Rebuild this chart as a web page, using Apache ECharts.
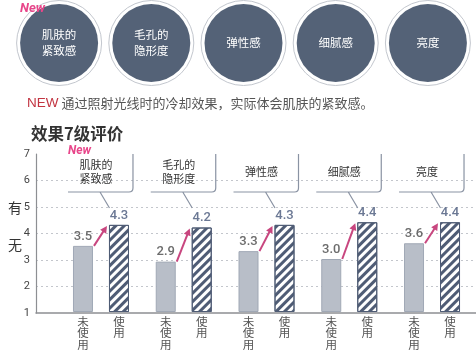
<!DOCTYPE html>
<html><head><meta charset="utf-8">
<script src="https://cdn.jsdelivr.net/npm/echarts@6/dist/echarts.min.js"></script>
<style>html,body{margin:0;padding:0;background:#fff}#c{width:476px;height:350px}</style>
</head><body><div id="c"></div>
<script>
const circleLabels = ['肌肤的\n紧致感', '毛孔的\n隐形度', '弹性感', '细腻感', '亮度'];
const categories = ['肌肤的\n紧致感', '毛孔的\n隐形度', '弹性感', '细腻感', '亮度'];
const beforeValues = [3.5, 2.9, 3.3, 3.0, 3.6];
const afterValues = [4.3, 4.2, 4.3, 4.4, 4.4];
const yTicks = [1, 2, 3, 4, 5, 6, 7];
const beforeLabel = '未使用';
const afterLabel = '使用';
const titleText = '效果7级评价';
const noteNew = 'NEW';
const noteText = ' 通过照射光线时的冷却效果，实际体会肌肤的紧致感。';
const yNameTop = '有';
const yNameBottom = '无';

const CJK = '"Noto Sans CJK SC", "Noto Sans", sans-serif';
const NUM = 'Roboto, "Noto Sans", sans-serif';

function xLabel() {
  const a = beforeLabel.split(''), b = afterLabel.split('');
  const n = Math.max(a.length, b.length);
  const lines = [];
  for (let k = 0; k < n; k++) {
    lines.push('{a|' + (a[k] || ' ') + '}{g| }{b|' + (b[k] || ' ') + '}');
  }
  return lines.join('\n');
}

const chart = echarts.init(document.getElementById('c'), null, {renderer: 'canvas'});
const splitColors = yTicks.map((t, k) => (k === 0 || k === yTicks.length - 1) ? 'rgba(0,0,0,0)' : '#c3c6cc');

chart.setOption({
  animation: false,
  backgroundColor: '#fff',
  grid: [
    {left: 13, right: 2, top: 0, height: 86},
    {left: 36, right: 0, top: 154, bottom: 37},
    {left: 59.6, right: 2.6, top: 154, bottom: 37}
  ],
  xAxis: [
    {gridIndex: 0, type: 'category', data: circleLabels, show: false},
    {gridIndex: 1, type: 'value', min: 0, max: 1, axisLabel: {show: false}, axisTick: {show: false}, splitLine: {show: false},
     axisLine: {show: true, onZero: false, lineStyle: {color: '#8d8f93', width: 1.5}}},
    {gridIndex: 2, type: 'category', data: categories, axisLine: {show: false}, axisTick: {show: false},
     axisLabel: {interval: 0, margin: 4, formatter: xLabel, fontFamily: CJK, fontSize: 11.5, color: '#555', lineHeight: 11.5,
       rich: {a: {width: 12, align: 'center', fontSize: 11.5, fontFamily: CJK, color: '#555', lineHeight: 11.5},
              g: {width: 24, fontSize: 11.5, lineHeight: 11.5},
              b: {width: 12, align: 'center', fontSize: 11.5, fontFamily: CJK, color: '#555', lineHeight: 11.5}}}}
  ],
  yAxis: [
    {gridIndex: 0, type: 'value', min: 0, max: 2, show: false},
    {gridIndex: 1, type: 'value', min: 1, max: 7, interval: 1,
     axisLine: {show: true, lineStyle: {color: '#8d8f93', width: 1.2}}, axisTick: {show: false},
     axisLabel: {margin: 6, fontFamily: NUM, fontSize: 11, color: '#444'},
     splitLine: {show: true, lineStyle: {type: [2, 3], color: splitColors, width: 1}}},
    {gridIndex: 2, type: 'value', min: 1, max: 7, interval: 1, show: false}
  ],
  series: [
    {type: 'scatter', xAxisIndex: 0, yAxisIndex: 0, silent: true, symbolSize: 85, z: 1,
     itemStyle: {color: '#fff', borderColor: '#c3c7ce', borderWidth: 1, opacity: 1},
     data: circleLabels.map((c, i) => [i, 1])},
    {type: 'scatter', xAxisIndex: 0, yAxisIndex: 0, silent: true, symbolSize: 78, z: 2,
     itemStyle: {color: '#546277', opacity: 1},
     label: {show: true, position: 'inside', color: '#fff', fontFamily: CJK, fontSize: 11.5, lineHeight: 16,
       formatter: p => circleLabels[p.dataIndex]},
     data: circleLabels.map((c, i) => [i, 1])},
    {type: 'bar', name: beforeLabel, xAxisIndex: 2, yAxisIndex: 2, barWidth: 20, barGap: '80%', z: 2,
     itemStyle: {color: '#b8bec8', borderColor: '#a0a8b5', borderWidth: 1},
     label: {show: true, position: 'top', distance: 3, fontFamily: NUM, fontSize: 13, fontWeight: 500, color: '#6c6c6c',
       formatter: p => p.value.toFixed(1)},
     data: beforeValues},
    {type: 'bar', name: afterLabel, xAxisIndex: 2, yAxisIndex: 2, barWidth: 20, z: 2,
     itemStyle: {color: '#fff', borderColor: '#4f5c75', borderWidth: 1,
       decal: {symbol: 'rect', symbolSize: 1, dashArrayX: [1, 0], dashArrayY: [2.8, 2.2], rotation: -Math.PI / 4, color: '#4f5c75'}},
     label: {show: true, position: 'top', distance: 3, fontFamily: NUM, fontSize: 13, fontWeight: 500, color: '#6b7894',
       formatter: p => p.value.toFixed(1)},
     data: afterValues},
    {type: 'custom', xAxisIndex: 2, yAxisIndex: 2, silent: true, z: 5,
     data: beforeValues.map((v, i) => [i, v, afterValues[i]]),
     renderItem: function (params, api) {
       const i = api.value(0);
       const p1 = api.coord([i, api.value(1)]);
       const p2 = api.coord([i, api.value(2)]);
       const sx = p1[0] - 7, sy = p1[1];
       const ex = p2[0] + 6, ey = p2[1] + 1;
       const dx = ex - sx, dy = ey - sy, L = Math.sqrt(dx * dx + dy * dy);
       const ux = dx / L, uy = dy / L, hl = 7, hw = 3.6;
       const bx = ex - ux * hl, by = ey - uy * hl;
       return {type: 'group', children: [
         {type: 'line', shape: {x1: sx, y1: sy, x2: bx + ux, y2: by + uy}, style: {stroke: '#c8467f', lineWidth: 2}},
         {type: 'polygon', shape: {points: [[ex, ey], [bx - uy * hw, by + ux * hw], [bx + uy * hw, by - ux * hw]]}, style: {fill: '#c8467f'}}
       ]};
     }},
    {type: 'custom', xAxisIndex: 2, yAxisIndex: 2, silent: true, z: 4,
     data: categories.map((c, i) => [i]),
     renderItem: function (params, api) {
       const i = api.value(0);
       const t = api.coord([i, 7]);
       const cx = t[0], top = t[1];
       const hy = top + 38;
       const r = 4;
       const path = 'M' + (cx + 32) + ' ' + top + ' L' + (cx + 32) + ' ' + (hy - r) +
         ' Q' + (cx + 32) + ' ' + hy + ' ' + (cx + 32 - r) + ' ' + hy + ' L' + (cx - 33) + ' ' + hy +
         ' M' + (cx - 1) + ' ' + hy + ' L' + (cx + 8.5) + ' ' + (hy + 16);
       return {type: 'group', children: [
         {type: 'path', shape: {pathData: path}, style: {stroke: '#8a93a3', lineWidth: 1.2, fill: null}},
         {type: 'text', style: {text: categories[i], x: cx - 5, y: top + 18, align: 'center', verticalAlign: 'middle',
           fontFamily: CJK, fontSize: 11, lineHeight: 14, fill: '#333'}}
       ]};
     }}
  ],
  graphic: [
    {type: 'text', left: 20, top: 2, z: 10, style: {text: 'New', fontFamily: NUM, fontStyle: 'italic', fontWeight: 'bold', fontSize: 13, fill: '#e8468a'}},
    {type: 'text', x: 27, y: 103, style: {text: '{r|' + noteNew + '}' + noteText, verticalAlign: 'middle', fontFamily: CJK, fontSize: 13, fill: '#555',
      rich: {r: {fontFamily: '"Liberation Sans", sans-serif', fontSize: 13.5, fill: '#c23441', color: '#c23441'}}}},
    {type: 'text', x: 31, y: 134, style: {text: titleText, verticalAlign: 'middle', fontFamily: CJK, fontSize: 16.5, fontWeight: 'bold', fill: '#333'}},
    {type: 'text', x: 68, y: 151, style: {text: 'New', verticalAlign: 'middle', fontFamily: NUM, fontStyle: 'italic', fontWeight: 'bold', fontSize: 12, fill: '#e8468a'}},
    {type: 'text', x: 8, y: 208, style: {text: yNameTop, verticalAlign: 'middle', fontFamily: CJK, fontSize: 14, fill: '#333'}},
    {type: 'text', x: 8, y: 245, style: {text: yNameBottom, verticalAlign: 'middle', fontFamily: CJK, fontSize: 14, fill: '#333'}}
  ]
});
</script></body></html>
